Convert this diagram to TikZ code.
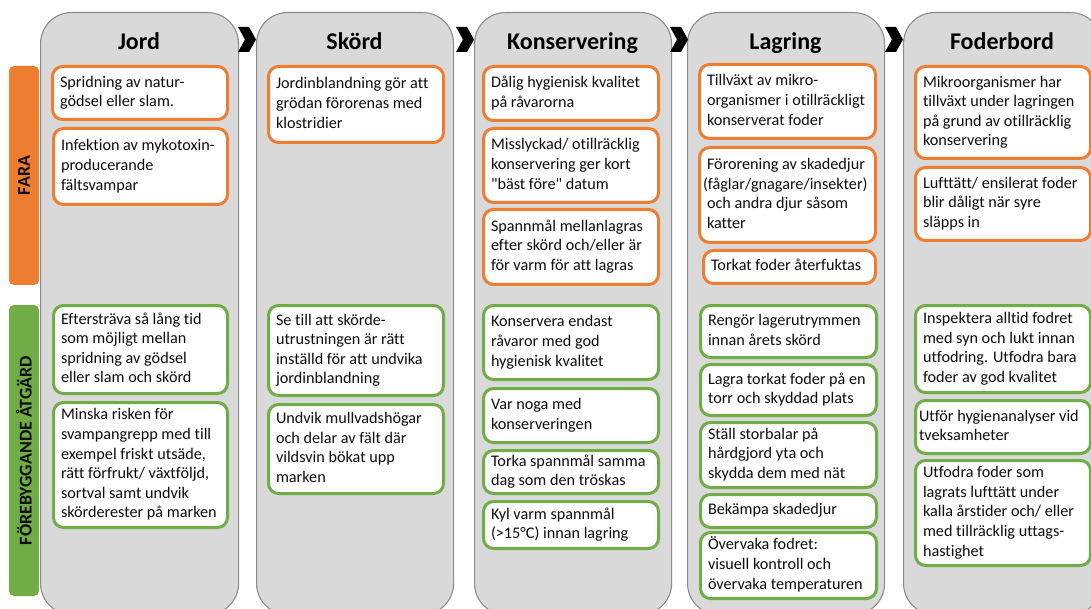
\documentclass[tikz,border=0pt]{standalone}
\usepackage{fontspec}
\setmainfont{Carlito}[Ligatures={TeXOff,NoCommon}]
\definecolor{og}{HTML}{ED7D31}
\definecolor{gn}{HTML}{70AD47}
\definecolor{colfill}{HTML}{D9D9D9}
\definecolor{colline}{HTML}{8C8C8C}
\definecolor{txt}{HTML}{0D0D0D}
\newcommand\mybox[7]{%
 \pgfmathsetmacro\bw{#5-#3-2}\pgfmathsetmacro\bh{#6-#4-2}\pgfmathsetmacro\tw{#5-#3-17}%
 \node[#2, minimum width=\bw pt, minimum height=\bh pt, anchor=north west] (#1) at (#3+1,#4+1)
  {\makebox[\tw pt][l]{\begin{tabular}{@{}l@{}}#7\end{tabular}}};}
\newcommand\chev[1]{\fill[black] (#1,27) -- (#1+11,27) -- (#1+18,39.5) -- (#1+11,52) -- (#1,52) -- (#1+7,39.5) -- cycle;}
\tikzset{
 hz/.style={draw=og, line width=3pt, fill=white, rounded corners=10pt, inner xsep=7.5pt, inner ysep=1pt,
   font=\fontsize{16.2}{19.6}\selectfont, text=txt},
 pv/.style={hz, draw=gn},
 col/.style={draw=colline, line width=1.1pt, fill=colfill, rounded corners=31pt, inner sep=0pt},
 head/.style={font=\bfseries\fontsize{24}{28}\selectfont, text=black, anchor=base},
 side/.style={rounded corners=5pt, rotate=90, minimum height=30pt, font=\bfseries\fontsize{18}{20}\selectfont,
   text=txt, inner sep=0pt},
}
\begin{document}
\begin{tikzpicture}[x=1pt,y=-1pt]
\useasboundingbox (0,0) rectangle (1091,609);
\fill[white] (0,0) rectangle (1091,609);
\clip (0,0) rectangle (1091,609);
% columns
\node[col, anchor=north west, minimum width=198pt, minimum height=602pt] (cJord) at (40,12) {};
\node[col, anchor=north west, minimum width=197pt, minimum height=602pt] (cSkord) at (256,12) {};
\node[col, anchor=north west, minimum width=197pt, minimum height=602pt] (cKons) at (474,12) {};
\node[col, anchor=north west, minimum width=197pt, minimum height=602pt] (cLag) at (687,12) {};
\node[col, anchor=north west, minimum width=198pt, minimum height=602pt] (cFod) at (903,12) {};
% chevrons
\chev{238}
\chev{456}
\chev{670}
\chev{885}
% headers
\node[head] (hJord) at (139,50) {Jord};
\node[head] (hSkord) at (354.5,50) {Skörd};
\node[head] (hKons) at (572.5,50) {Konservering};
\node[head] (hLag) at (785.5,50) {Lagring};
\node[head] (hFod) at (1002,50) {Foderbord};
% side labels
\node[side, fill=og, minimum width=219pt] (fara) at (24,175.5) {FARA};
\node[side, fill=gn, minimum width=291pt] (forb) at (24,450.5) {FÖREBYGGANDE ÅTGÄRD};
% Jord
\mybox{j1}{hz}{50}{64}{227}{119}{Spridning av natur-\\gödsel eller slam.}
\mybox{j2}{hz}{51}{126}{227}{204}{Infektion av mykotoxin-\\producerande\\fältsvampar}
\mybox{j3}{pv}{51}{303}{227}{393}{Eftersträva så lång tid\\som möjligt mellan\\spridning av gödsel\\eller slam och skörd}
\mybox{j4}{pv}{51}{400}{227}{527}{Minska risken för\\svampangrepp med till\\exempel friskt utsäde,\\rätt förfrukt/ växtföljd,\\sortval samt undvik\\skörderester på marken}
% Skord
\mybox{s1}{hz}{266}{64}{443}{142}{Jordinblandning gör att\\grödan förorenas med\\klostridier}
\mybox{s2}{pv}{266}{303}{443}{395}{Se till att skörde-\\utrustningen är rätt\\inställd för att undvika\\jordinblandning}
\mybox{s3}{pv}{266}{402}{443}{493}{Undvik mullvadshögar\\och delar av fält där\\vildsvin bökat upp\\marken}
% Konservering
\mybox{k1}{hz}{481}{64}{658}{120}{Dålig hygienisk kvalitet\\på råvarorna}
\mybox{k2}{hz}{481}{126}{658}{202}{Misslyckad/ otillräcklig\\konservering ger kort\\"bäst före" datum}
\mybox{k3}{hz}{481}{207}{658}{284}{Spannmål mellanlagras\\efter skörd och/eller är\\för varm för att lagras}
\mybox{k4}{pv}{481}{303}{658}{379}{Konservera endast\\råvaror med god\\hygienisk kvalitet}
\mybox{k5}{pv}{481}{386}{658}{442}{Var noga med\\konserveringen}
\mybox{k6}{pv}{481}{448}{658}{493}{Torka spannmål samma\\dag som den tröskas}
\mybox{k7}{pv}{481}{499}{658}{548}{Kyl varm spannmål\\(>15°C) innan lagring}
% Lagring
\mybox{l1}{hz}{697}{62}{875}{138}{Tillväxt av mikro-\\organismer i otillräckligt\\konserverat foder}
\mybox{l2}{hz}{697}{145}{875}{242}{Förorening av skadedjur\\\hspace*{-4pt}(fåglar/gnagare/insekter)\\och andra djur såsom\\katter}
\mybox{l3}{hz}{701}{248}{875}{283}{Torkat foder återfuktas}
\mybox{l4}{pv}{698}{303}{876}{357}{Rengör lagerutrymmen\\innan årets skörd}
\mybox{l5}{pv}{698}{362}{876}{415}{Lagra torkat foder på en\\torr och skyddad plats}
\mybox{l6}{pv}{698}{420}{876}{487}{Ställ storbalar på\\hårdgjord yta och\\skydda dem med nät}
\mybox{l7}{pv}{698}{492}{876}{527}{Bekämpa skadedjur}
\mybox{l8}{pv}{698}{530}{876}{598}{Övervaka fodret:\\visuell kontroll och\\övervaka temperaturen}
% Foderbord
\mybox{f1}{hz}{913}{64}{1090}{158}{Mikroorganismer har\\tillväxt under lagringen\\på grund av otillräcklig\\konservering}
\mybox{f2}{hz}{913}{165}{1090}{240}{Lufttätt/ ensilerat foder\\blir dåligt när syre\\släpps in}
\mybox{f3}{pv}{913}{303}{1090}{392}{Inspektera alltid fodret\\med syn och lukt innan\\utfodring. Utfodra bara\\foder av god kvalitet}
\mybox{f4}{pv}{913}{398}{1090}{453}{\hspace*{-4pt}Utför hygienanalyser vid\\\hspace*{-4pt}tveksamheter}
\mybox{f5}{pv}{913}{458}{1090}{565}{Utfodra foder som\\lagrats lufttätt under\\kalla årstider och/ eller\\med tillräcklig uttags-\\hastighet}
\end{tikzpicture}
\end{document}
